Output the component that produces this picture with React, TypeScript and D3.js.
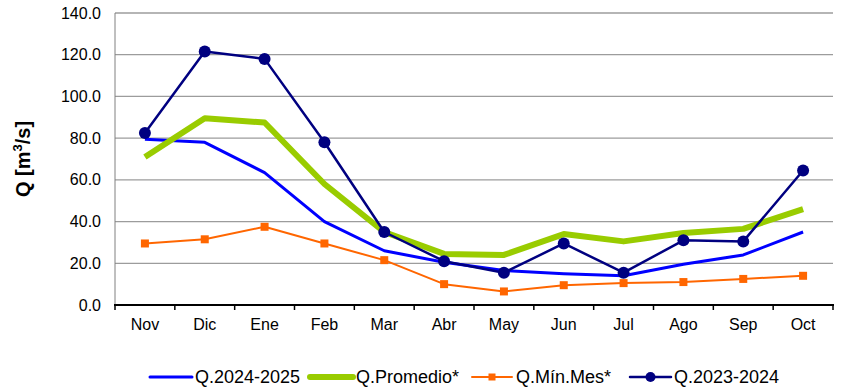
import React from 'react';
import * as d3 from 'd3';

const months = ['Nov', 'Dic', 'Ene', 'Feb', 'Mar', 'Abr', 'May', 'Jun', 'Jul', 'Ago', 'Sep', 'Oct'];
const q2425 = [79.5, 78, 63.5, 40, 26, 20.5, 16.5, 15, 14, 19.5, 24, 35];
const qProm = [71, 89.5, 87.5, 58, 35, 24.5, 24, 34, 30.5, 34.5, 36.5, 46];
const qMin = [29.5, 31.5, 37.5, 29.5, 21.5, 10, 6.5, 9.5, 10.5, 11, 12.5, 14];
const q2324 = [82.5, 121.5, 118, 78, 35, 21, 15.5, 29.5, 15.5, 31, 30.5, 64.5];
const yTicks = [0, 20, 40, 60, 80, 100, 120, 140];

const W = 845;
const H = 388;
const m = { left: 115, right: 12, top: 13, bottom: 83 };

export default function App() {
  const x = d3.scaleBand().domain(months).range([m.left, W - m.right]);
  const y = d3.scaleLinear().domain([0, 140]).range([H - m.bottom, m.top]);
  const cx = (i: number) => x(months[i])! + x.bandwidth() / 2;
  const line = d3.line<number>().x((_, i) => cx(i)).y(d => y(d));
  const font = 'Liberation Sans, Arial, sans-serif';
  const y0 = y(0);

  const series = [
    { name: 'Q.2024-2025', data: q2425, color: '#0000FF', width: 3, marker: '' },
    { name: 'Q.Promedio*', data: qProm, color: '#99CC00', width: 6, marker: '' },
    { name: 'Q.Mín.Mes*', data: qMin, color: '#FF6600', width: 2, marker: 'square' },
    { name: 'Q.2023-2024', data: q2324, color: '#000080', width: 2.5, marker: 'circle' },
  ];
  // legend line start / end and text start
  const legendLine = [[150, 192], [310, 353], [472, 512], [630, 671]];
  const legendText = [195, 356, 516, 674];

  return (
    <svg width={W} height={H} style={{ position: 'absolute', left: 0, top: 0 }} fontFamily={font}>
      {yTicks.map(t => (
        <g key={t}>
          {t > 0 && <line x1={m.left} x2={W - m.right} y1={y(t)} y2={y(t)} stroke="#9C9C9C" strokeWidth={1.3} />}
          <text x={101} y={y(t) + 5.5} textAnchor="end" fontSize={16} fill="#000">{t.toFixed(1)}</text>
        </g>
      ))}
      <line x1={m.left} x2={m.left} y1={m.top} y2={y0} stroke="#808080" strokeWidth={1} />
      <line x1={m.left - 1} x2={W - m.right + 1} y1={y0} y2={y0} stroke="#000" strokeWidth={2} />
      {months.concat(['']).map((_, i) => {
        const xx = m.left + i * x.bandwidth();
        return <line key={i} x1={xx} x2={xx} y1={y0} y2={y0 + 5} stroke="#000" strokeWidth={1.5} />;
      })}
      {months.map((mo, i) => (
        <text key={mo} x={cx(i)} y={y0 + 25} textAnchor="middle" fontSize={16} fill="#000">{mo}</text>
      ))}
      <text transform={`translate(30,${(m.top + y0) / 2}) rotate(-90)`} textAnchor="middle" fontSize={20} fontWeight="bold">
        Q [m<tspan fontSize={13} dy={-8}>3</tspan><tspan dy={8}>/s]</tspan>
      </text>
      {series.map(s => (
        <g key={s.name}>
          <path d={line(s.data)!} fill="none" stroke={s.color} strokeWidth={s.width} strokeLinejoin="round" />
          {s.marker === 'circle' && s.data.map((v, i) => <circle key={i} cx={cx(i)} cy={y(v)} r={6} fill={s.color} />)}
          {s.marker === 'square' && s.data.map((v, i) => <rect key={i} x={cx(i) - 4} y={y(v) - 4} width={8} height={8} fill={s.color} />)}
        </g>
      ))}
      {series.map((s, k) => {
        const [a, b] = legendLine[k];
        const ly = 377;
        const mid = (a + b) / 2;
        return (
          <g key={s.name}>
            <line x1={a} x2={b} y1={ly} y2={ly} stroke={s.color} strokeWidth={s.width} strokeLinecap="round" />
            {s.marker === 'circle' && <circle cx={mid} cy={ly} r={5} fill={s.color} />}
            {s.marker === 'square' && <rect x={mid - 3.5} y={ly - 3.5} width={7} height={7} fill={s.color} />}
            <text x={legendText[k]} y={382.5} fontSize={18} fill="#000">{s.name}</text>
          </g>
        );
      })}
    </svg>
  );
}
